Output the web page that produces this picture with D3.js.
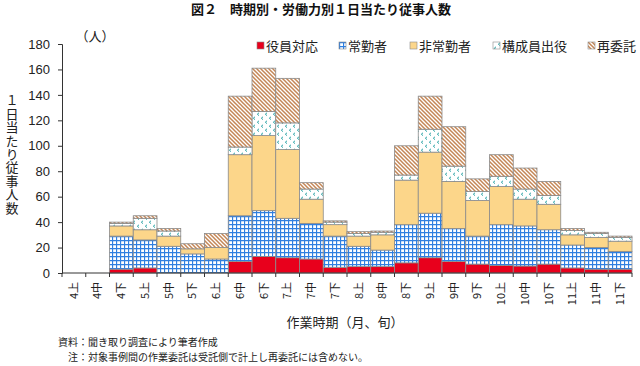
<!DOCTYPE html>
<html><head><meta charset="utf-8">
<script src="https://cdn.jsdelivr.net/npm/d3@7"></script>
<style>
body{margin:0;background:#fff;}
svg{display:block;font-family:"Noto Sans CJK JP","Noto Sans",sans-serif;}
</style>
</head><body>
<svg id="c" width="640" height="366"></svg>
<script>
const categories = ["4上","4中","4下","5上","5中","5下","6上","6中","6下","7上","7中","7下","8上","8中","8下","9上","9中","9下","10上","10中","10下","11上","11中","11下"];
const seriesNames = ["役員対応","常勤者","非常勤者","構成員出役","再委託"];
const yakuin   = [0,0,3,4,0,0,0,9,13,12,11,4.5,5,5,8,12,9,7,6,5.5,7,4,3,3];
const joukin   = [0,0,26,22,21,15,11,36,36,31,28,24.5,16,13,30,35,26,22,32,31.5,27,18,17,14];
const hijoukin = [0,0,8,8,8,4,9,48,59,54,19,9,8,12,35,48,37,28,30,21,20,8,8,8];
const kouseiin = [0,0,2,9,4,0,0,6,19,21,8,2,2,2,4,18,12,7,8,8,7,3.5,3,3];
const saiitaku = [0,0,1,2,2,4,11,40,34,35,5,1,1.5,1,23,26,31,10,17,16.5,11,1.5,1,1];
const yTicks = [0,20,40,60,80,100,120,140,160,180];
const titleText = "図２　時期別・労働力別１日当たり従事人数";
const yTitle = "１日当たり従事人数";
const unitText = "（人）";
const xTitle = "作業時期（月、旬）";
const note1 = "資料：聞き取り調査により筆者作成";
const note2 = "注：対象事例間の作業委託は受託側で計上し再委託には含めない。";

const seriesArrays = [yakuin, joukin, hijoukin, kouseiin, saiitaku];
const table = categories.map((c,i)=>{
  const o = {cat:c};
  seriesNames.forEach((s,k)=>o[s]=seriesArrays[k][i]);
  return o;
});

const svg = d3.select("#c");
const defs = svg.append("defs");
const pGrid = defs.append("pattern").attr("id","pGrid").attr("patternUnits","userSpaceOnUse").attr("width",4).attr("height",4);
pGrid.append("rect").attr("width",4).attr("height",4).attr("fill","#fff");
pGrid.append("path").attr("d","M0,0.5H4M0.5,0V4").attr("stroke","#2f7fe0").attr("stroke-width",1.3);

const pDot = defs.append("pattern").attr("id","pDot").attr("patternUnits","userSpaceOnUse").attr("width",8).attr("height",8);
pDot.append("rect").attr("width",8).attr("height",8).attr("fill","#fff");
pDot.append("path").attr("d","M3,0.8L1.3,2.2L3,3.6M7,4.8L5.3,6.2L7,7.6").attr("stroke","#2aa3a6").attr("stroke-width",1).attr("fill","none");

const pHatch = defs.append("pattern").attr("id","pHatch").attr("patternUnits","userSpaceOnUse").attr("width",4).attr("height",4);
pHatch.append("rect").attr("width",4).attr("height",4).attr("fill","#fff");
pHatch.append("path").attr("d","M-1,-1L5,5M-1,3L1,5M3,-1L5,1").attr("stroke","#c48656").attr("stroke-width",1.5);

const fills = ["#e8001c","url(#pGrid)","#fcd68a","url(#pDot)","url(#pHatch)"];
const color = d3.scaleOrdinal().domain(seriesNames).range(fills);

const x = d3.scaleBand().domain(categories).range([62,632]).padding(0);
const y = d3.scaleLinear().domain([0,180]).range([273,44]);

const stack = d3.stack().keys(seriesNames)(table);

svg.append("g").selectAll("g").data(stack).join("g")
  .attr("fill", d=>color(d.key))
  .selectAll("rect").data(d=>d.filter(p=>p[1]-p[0]>0)).join("rect")
  .attr("x", d=>x(d.data.cat))
  .attr("width", x.bandwidth())
  .attr("y", d=>y(d[1]))
  .attr("height", d=>y(d[0])-y(d[1]))
  .attr("stroke","#8a8a8a").attr("stroke-width",0.8);

const yAxis = svg.append("g").attr("transform","translate(62,0)")
  .call(d3.axisLeft(y).tickValues(yTicks).tickSize(4).tickPadding(8));
yAxis.select(".domain").attr("stroke","#333");
yAxis.selectAll(".tick line").attr("stroke","#333");
yAxis.selectAll("text").attr("font-size",13).attr("fill","#222").attr("font-family","Liberation Sans, Arial, sans-serif");

const xg = svg.append("g");
xg.append("line").attr("x1",x.range()[0]).attr("x2",x.range()[1]).attr("y1",y(0)).attr("y2",y(0)).attr("stroke","#333");
const bounds = categories.map(c=>x(c)).concat([x(categories[categories.length-1])+x.bandwidth()]);
xg.selectAll("line.tk").data(bounds).join("line").attr("class","tk")
  .attr("x1",d=>d).attr("x2",d=>d).attr("y1",y(0)).attr("y2",y(0)+4).attr("stroke","#333");
xg.selectAll("text").data(categories).join("text")
  .attr("transform",d=>`translate(${x(d)+x.bandwidth()/2},282) rotate(-90)`)
  .attr("text-anchor","end").attr("dy","0.35em")
  .attr("font-size",11).attr("fill","#222").text(d=>d);

svg.append("text").attr("x",321).attr("y",14).attr("text-anchor","middle")
  .attr("font-size",13).attr("font-weight","bold").attr("fill","#111").text(titleText);

svg.append("text").attr("x",95).attr("y",41).attr("text-anchor","middle")
  .attr("font-size",13).attr("fill","#222").text(unitText);

// y title as one vertical text
svg.append("text").attr("x",12).attr("y",94)
  .attr("font-size",13).attr("fill","#222")
  .style("writing-mode","vertical-rl").style("text-orientation","upright")
  .style("letter-spacing","0.4px")
  .text(yTitle);

svg.append("text").attr("x",345).attr("y",327).attr("text-anchor","middle")
  .attr("font-size",13).attr("fill","#222").text(xTitle);

svg.append("text").attr("x",58).attr("y",346).attr("font-size",10).attr("fill","#222").text(note1);
svg.append("text").attr("x",68).attr("y",361).attr("font-size",10).attr("fill","#222").text(note2);

const legX = [257,339,410,493,588];
const leg = svg.append("g").selectAll("g").data(seriesNames).join("g")
  .attr("transform",(d,i)=>`translate(${legX[i]},46)`);
leg.append("rect").attr("x",0).attr("y",-4).attr("width",7).attr("height",7)
  .attr("fill",d=>color(d)).attr("stroke","#8a8a8a").attr("stroke-width",0.6);
leg.append("text").attr("x",9).attr("y",0).attr("dy","0.35em").attr("font-size",13).attr("fill","#222").text(d=>d);
</script>
</body></html>
